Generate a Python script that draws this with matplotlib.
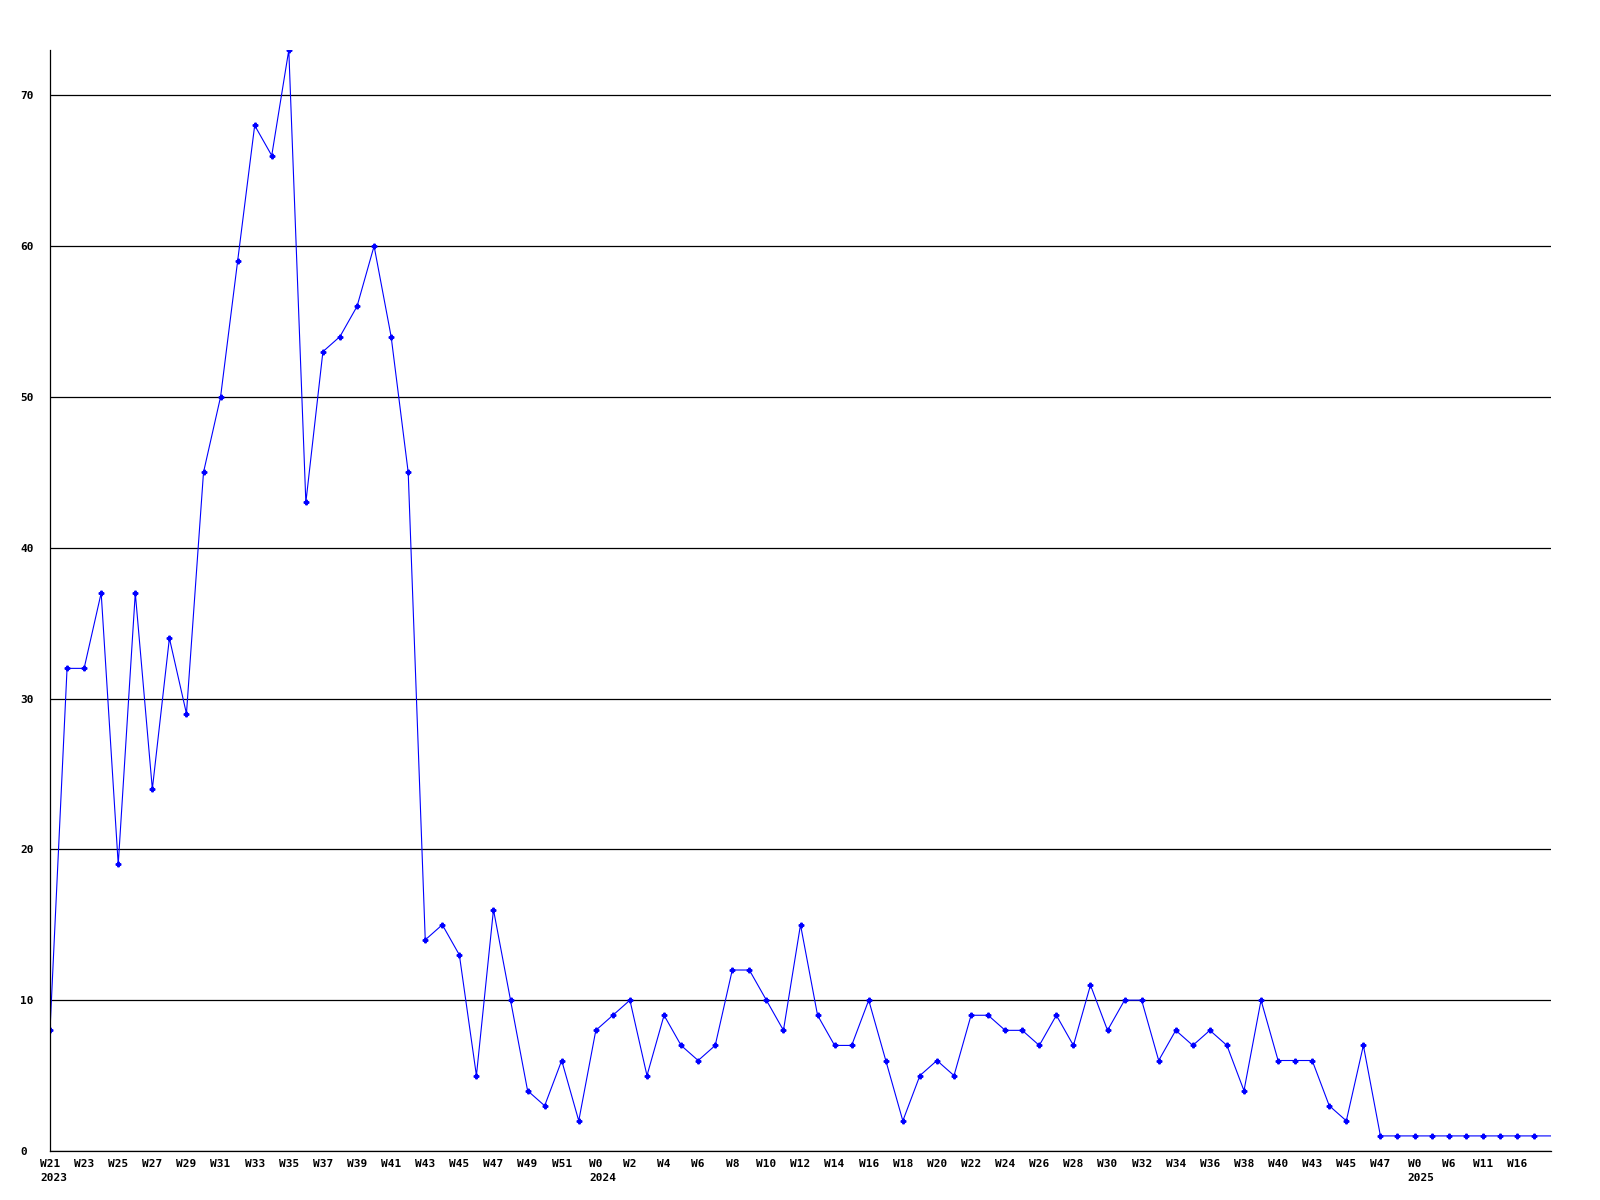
import matplotlib.pyplot as plt
import numpy as np

# weekly counts, one per week
counts = [8, 32, 32, 37, 19, 37, 24, 34, 29, 45,
          50, 59, 68, 66, 73, 43, 53, 54, 56, 60,
          54, 45, 14, 15, 13, 5, 16, 10, 4, 3,
          6, 2, 8, 9, 10, 5, 9, 7, 6, 7,
          12, 12, 10, 8, 15, 9, 7, 7, 10, 6,
          2, 5, 6, 5, 9, 9, 8, 8, 7, 9,
          7, 11, 8, 10, 10, 6, 8, 7, 8, 7,
          4, 10, 6, 6, 6, 3, 2, 7, 1, 1,
          1, 1, 1, 1, 1, 1, 1, 1, 1]

week_labels = ["W21", "W23", "W25", "W27", "W29", "W31", "W33", "W35", "W37", "W39",
               "W41", "W43", "W45", "W47", "W49", "W51",
               "W0", "W2", "W4", "W6", "W8", "W10", "W12", "W14", "W16", "W18",
               "W20", "W22", "W24", "W26", "W28", "W30", "W32", "W34", "W36", "W38",
               "W40", "W43", "W45", "W47",
               "W0", "W6", "W11", "W16"]
year_labels = ["2023", "2024", "2025"]
year_ticks = [0, 16, 40]   # which week label starts each year

x = np.arange(len(counts))
tick_pos = x[::2][:len(week_labels)]

FONT = "DejaVu Sans Mono"
FS = 8

fig = plt.figure(figsize=(16, 12), dpi=100)
ax = fig.add_axes([50 / 1600, 1 - 1151 / 1200, 1501 / 1600, 1101 / 1200])

ax.plot(x, counts, color="#0000ff", linewidth=0.8, marker="P", markersize=3.3,
        markevery=list(range(len(counts) - 1)))

ax.set_xlim(0, len(counts) - 1)
ax.set_ylim(0, max(counts))

yt = np.arange(0, 71, 10)
ax.set_yticks(yt)
ax.set_yticklabels([str(v) for v in yt], fontfamily=FONT, fontsize=FS, fontweight="bold")
ax.tick_params(axis="y", length=0, pad=21.6)
plt.setp(ax.get_yticklabels(), ha="left")

ax.set_xticks(tick_pos)
ax.set_xticklabels(week_labels, fontfamily=FONT, fontsize=FS, fontweight="bold")
ax.tick_params(axis="x", length=0, pad=6)

for yr, ti in zip(year_labels, year_ticks):
    wk = week_labels[ti]
    off = -len(wk) * 0.602 * FS / 2
    ax.annotate(yr, xy=(tick_pos[ti], 0), xycoords=("data", "axes fraction"),
                xytext=(off, -16), textcoords="offset points",
                ha="left", va="top", fontfamily=FONT, fontsize=FS, fontweight="bold")

ax.yaxis.grid(True, color="black", linewidth=0.9)
ax.set_axisbelow(True)
for s in ["top", "right"]:
    ax.spines[s].set_visible(False)
ax.spines["left"].set_linewidth(0.9)
ax.spines["bottom"].set_linewidth(0.9)

fig.savefig("out.png", dpi=100)
